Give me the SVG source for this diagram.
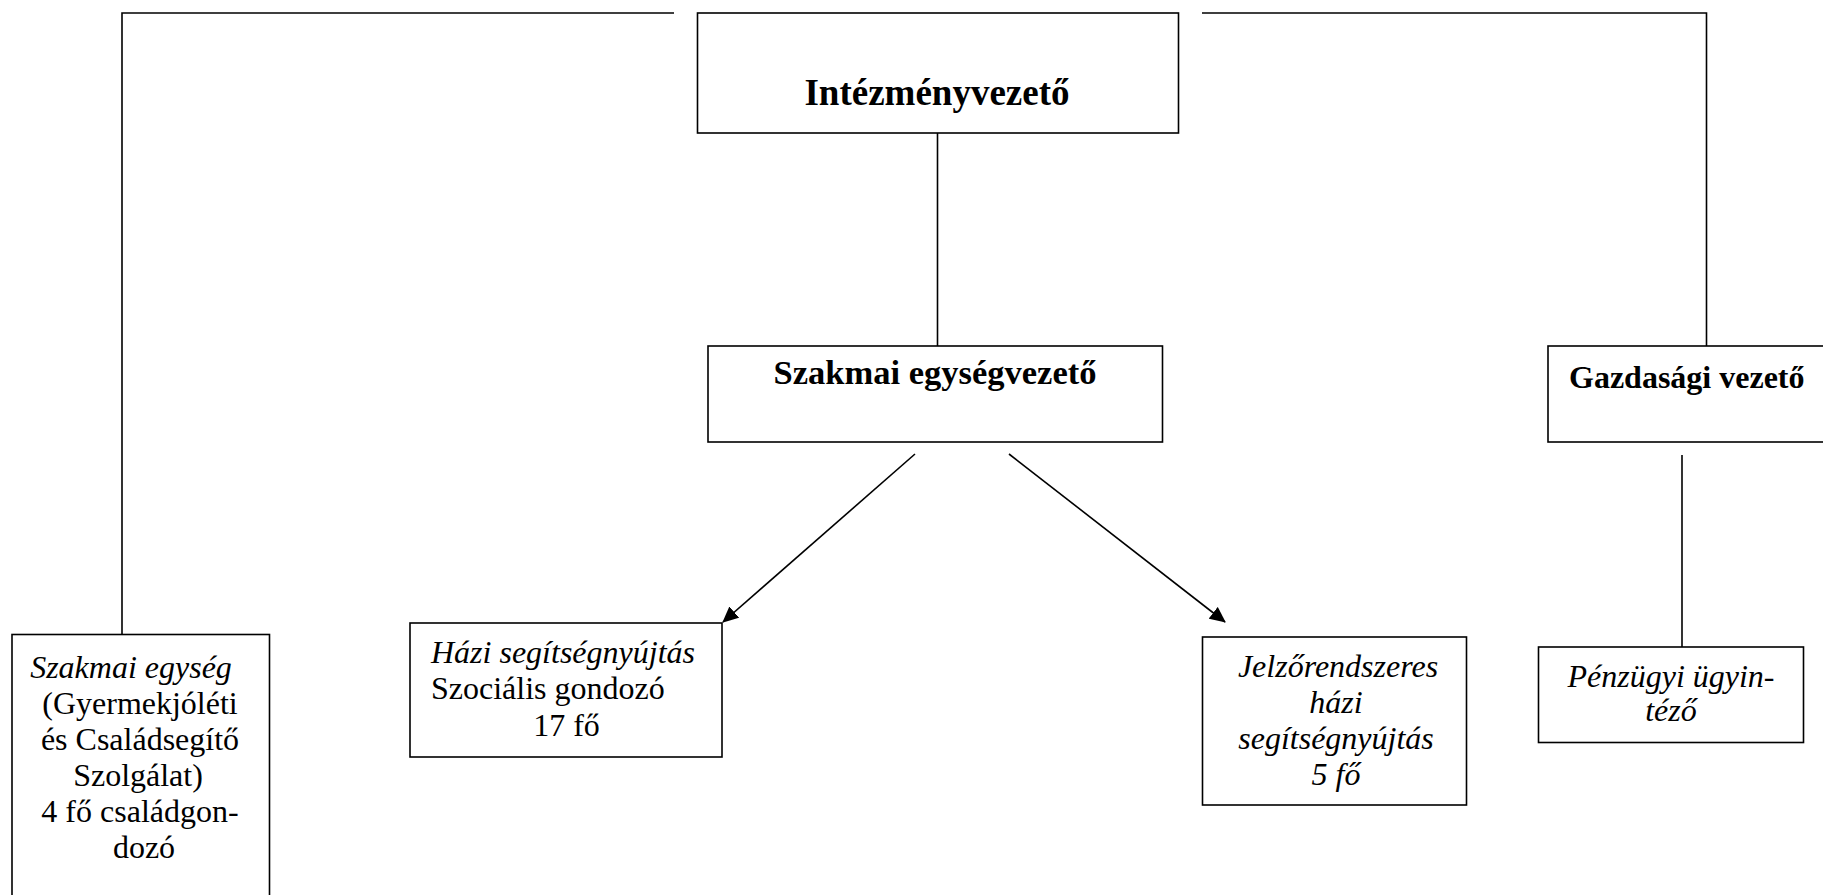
<svg xmlns="http://www.w3.org/2000/svg" width="1823" height="895" viewBox="0 0 1823 895">
<defs>
<marker id="arr" markerWidth="16" markerHeight="15" refX="15" refY="7.5" orient="auto" markerUnits="userSpaceOnUse">
<path d="M0,0 L16,7.5 L0,15 Z" fill="#000"/>
</marker>
<style>
.box{fill:#fff;stroke:#000;stroke-width:1.6}
.ln{fill:none;stroke:#000;stroke-width:1.6}
.t{font-family:"Liberation Serif","Times New Roman",serif;font-size:32px;fill:#000}
.b{font-weight:bold}
.i{font-style:italic}
.m{text-anchor:middle}
</style>
</defs>
<rect width="1823" height="895" fill="#fff"/>
<g id="connectors">
<polyline class="ln" points="674,13 122,13 122,634"/>
<polyline class="ln" points="1202,13 1706.5,13 1706.5,349"/>
<line class="ln" x1="937.5" y1="133" x2="937.5" y2="346"/>
<line class="ln" x1="1682" y1="455" x2="1682" y2="647"/>
<line class="ln" x1="915" y1="454" x2="723" y2="622" marker-end="url(#arr)"/>
<line class="ln" x1="1009" y1="454" x2="1225" y2="622" marker-end="url(#arr)"/>
</g>
<g id="intezmenyvezeto">
<rect class="box" x="697.5" y="13" width="481" height="120"/>
<text class="t b m" x="937" y="105" style="font-size:37px">Intézményvezető</text>
</g>
<g id="szakmai-egysegvezeto">
<rect class="box" x="708" y="346" width="454.5" height="96"/>
<text class="t b m" x="935" y="384" style="font-size:34.5px">Szakmai egységvezető</text>
</g>
<g id="gazdasagi-vezeto">
<rect class="box" x="1548" y="346" width="290" height="96"/>
<text class="t b" x="1569" y="388" style="font-size:32px">Gazdasági vezető</text>
</g>
<g id="szakmai-egyseg">
<rect class="box" x="12" y="634.5" width="257.5" height="280"/>
<text class="t i m" x="131" y="678">Szakmai egység</text>
<text class="t m" x="140" y="714">(Gyermekjóléti</text>
<text class="t m" x="140" y="750">és Családsegítő</text>
<text class="t m" x="138" y="786">Szolgálat)</text>
<text class="t m" x="140" y="822">4 fő családgon-</text>
<text class="t m" x="144" y="858">dozó</text>
</g>
<g id="hazi-segitsegnyujtas">
<rect class="box" x="410" y="623" width="312" height="134"/>
<text class="t i" x="431" y="663">Házi segítségnyújtás</text>
<text class="t" x="431" y="699">Szociális gondozó</text>
<text class="t m" x="566.5" y="736">17 fő</text>
</g>
<g id="jelzorendszeres">
<rect class="box" x="1202.5" y="637" width="264" height="168"/>
<text class="t i m" x="1338" y="677">Jelzőrendszeres</text>
<text class="t i m" x="1336" y="713">házi</text>
<text class="t i m" x="1336" y="749">segítségnyújtás</text>
<text class="t i m" x="1336" y="785">5 fő</text>
</g>
<g id="penzugyi-ugyintezo">
<rect class="box" x="1538.5" y="647" width="265" height="95.5"/>
<text class="t i m" x="1671" y="687">Pénzügyi ügyin-</text>
<text class="t i m" x="1671" y="721">téző</text>
</g>
</svg>
